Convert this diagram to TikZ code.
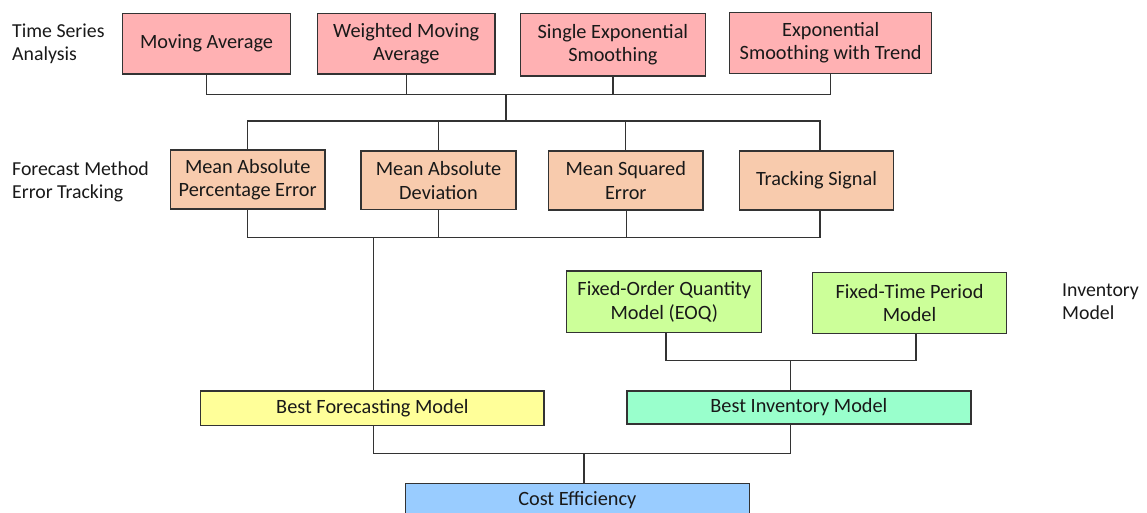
\documentclass[tikz,border=0pt]{standalone}
\usepackage{fontspec}
\setmainfont{Carlito}
\definecolor{pinkf}{HTML}{FFB1B3}
\definecolor{orangef}{HTML}{F8CBAD}
\definecolor{greenf}{HTML}{CCFF99}
\definecolor{mintf}{HTML}{99FFCC}
\definecolor{yellowf}{HTML}{FFFF99}
\definecolor{bluef}{HTML}{99CCFF}
\definecolor{edge}{HTML}{333333}
\tikzset{
  box/.style={draw=edge, line width=1.3pt, rectangle, inner sep=2pt, align=center,
    font=\fontsize{20.3}{23.5}\selectfont, text=black!90},
  pinkbox/.style={box, fill=pinkf},
  orangebox/.style={box, fill=orangef},
  greenbox/.style={box, fill=greenf},
  mintbox/.style={box, fill=mintf},
  yellowbox/.style={box, fill=yellowf},
  bluebox/.style={box, fill=bluef},
  lbl/.style={inner sep=0pt, align=left, anchor=west, font=\fontsize{19.8}{23}\selectfont, text=black!90},
  conn/.style={draw=edge, line width=1.3pt}
}
\begin{document}
\begin{tikzpicture}[x=1pt,y=-1pt]
\useasboundingbox (0,0) rectangle (1147,513);
\clip (0,0) rectangle (1147,513);
\fill[white] (0,0) rectangle (1147,513);

% labels
\node[lbl] (l1) at (12,43.5) {Time Series\\Analysis};
\node[lbl] (l2) at (12,181.5) {Forecast Method\\Error Tracking};
\node[lbl] (l3) at (1062,301.7) {Inventory\\Model};

% row 1
\node[pinkbox, minimum width=167.6pt, minimum height=60.7pt] (ma) at (206.6,43.7) {Moving Average};
\node[pinkbox, minimum width=177.6pt, minimum height=60.7pt] (wma) at (406.2,43.7) {Weighted Moving\\Average};
\node[pinkbox, minimum width=184.8pt, minimum height=62.7pt] (ses) at (612.9,44.7) {Single Exponential\\Smoothing};
\node[pinkbox, minimum width=202.2pt, minimum height=61pt] (est) at (830.7,42.8) {Exponential\\Smoothing with Trend};

% row 2
\node[orangebox, minimum width=154.3pt, minimum height=59pt] (mape) at (247.7,179.5) {Mean Absolute\\Percentage Error};
\node[orangebox, minimum width=155pt, minimum height=58.7pt] (mad) at (438.5,180.3) {Mean Absolute\\Deviation};
\node[orangebox, minimum width=154.5pt, minimum height=59pt] (mse) at (625.8,180.5) {Mean Squared\\Error};
\node[orangebox, minimum width=154pt, minimum height=59pt] (ts) at (816.5,180.5) {Tracking Signal};

% inventory
\node[greenbox, minimum width=195pt, minimum height=61.3pt] (foq) at (664.3,301.7) {Fixed-Order Quantity\\Model (EOQ)};
\node[greenbox, minimum width=193.4pt, minimum height=61.4pt] (ftp) at (909.5,303) {Fixed-Time Period\\Model};

% bottom
\node[yellowbox, minimum width=343.3pt, minimum height=34.7pt] (bfm) at (372.4,408.3) {Best Forecasting Model};
\node[mintbox, minimum width=343.9pt, minimum height=33pt] (bim) at (798.9,407.5) {Best Inventory Model};
\node[bluebox, minimum width=344pt, minimum height=33pt] (ce) at (577.3,499.7) {Cost Efficiency};

% junctions
\coordinate (j1) at (506,94.3);
\coordinate (j2) at (506,121);
\coordinate (j3) at (373.7,237.7);
\coordinate (j4) at (790.7,360.7);
\coordinate (j5) at (584,453.3);

% connectors row1 -> bus
\draw[conn] (ma.south) |- (j1);
\draw[conn] (est.south) |- (j1);
\draw[conn] (wma.south) -- (wma.south |- j1);
\draw[conn] (ses.south) -- (ses.south |- j1);
\draw[conn] (j1) -- (j2);
% bus -> row2
\draw[conn] (mape.north) |- (j2);
\draw[conn] ([xshift=3.5pt]ts.north) |- (j2);
\draw[conn] (mad.north) -- (mad.north |- j2);
\draw[conn] (mse.north) -- (mse.north |- j2);
% row2 -> bus
\draw[conn] (mape.south) |- (j3);
\draw[conn] ([xshift=3.5pt]ts.south) |- (j3);
\draw[conn] (mad.south) -- (mad.south |- j3);
\draw[conn] ([xshift=1pt]mse.south) -- ([xshift=1pt]mse.south |- j3);
\draw[conn] (j3) -- (j3 |- bfm.north);
% inventory
\draw[conn] ([xshift=1.8pt]foq.south) |- (j4);
\draw[conn] ([xshift=6.5pt]ftp.south) |- (j4);
\draw[conn] (j4) -- (j4 |- bim.north);
% bottom
\draw[conn] (j3 |- bfm.south) |- (j5);
\draw[conn] (j4 |- bim.south) |- (j5);
\draw[conn] (j5) -- (j5 |- ce.north);
\end{tikzpicture}
\end{document}
